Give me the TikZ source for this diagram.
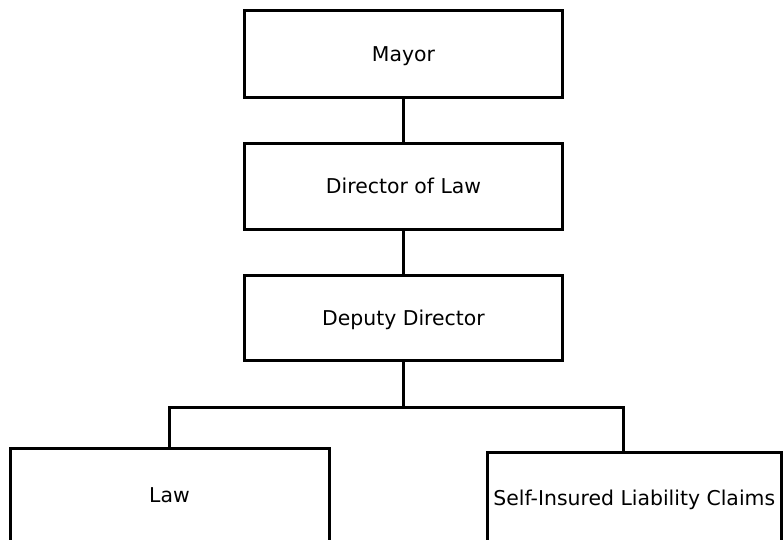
\documentclass[tikz,border=0pt]{standalone}
\usepackage{fontspec}
\setmainfont{DejaVu Sans}
\begin{document}
\begin{tikzpicture}[x=1pt,y=-1pt,
  unit/.style={draw,line width=3pt,inner sep=0pt,
    text height=14.6pt,text depth=0pt,
    font=\fontsize{20.4}{23}\selectfont},
  link/.style={line width=3pt}]
\useasboundingbox (0,0) rectangle (783,539);
\clip (0,0) rectangle (783,539);
% management chain
\node[unit,minimum width=318.4pt,minimum height=86.2pt] (mayor) at (403.5,53.9) {Mayor};
\node[unit,minimum width=318.4pt,minimum height=86pt] (dir) at (403.5,186.5) {Director of Law};
\node[unit,minimum width=318.4pt,minimum height=85.4pt] (dep) at (403.5,318) {Deputy Director};
% divisions
\node[unit,minimum width=319pt,minimum height=94pt] (law) at (169.5,495) {Law};
\node[unit,minimum width=294pt,minimum height=91pt] (sil) at (634.3,498.2) {Self-Insured Liability Claims};
% connectors
\coordinate (bus) at (403.5,407);
\coordinate (busL) at (169,407);
\coordinate (busR) at (623.7,407);
\draw[link] (mayor.south) -- (dir.north);
\draw[link] (dir.south) -- (dep.north);
\draw[link] (dep.south) -- (bus);
\draw[link] (busL |- law.north) -- (busL) -- (busR) -- (busR |- sil.north);
\end{tikzpicture}
\end{document}
